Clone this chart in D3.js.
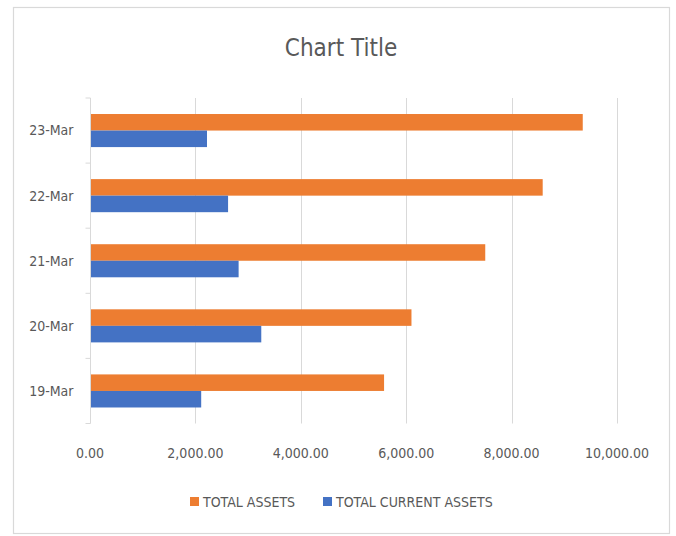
<!DOCTYPE html>
<html>
<head>
<meta charset="utf-8">
<script src="https://cdn.jsdelivr.net/npm/d3@7"></script>
<style>
  html, body { margin: 0; padding: 0; background: #fff; }
  svg { display: block; }
  text { font-family: "Liberation Sans Narrow", "DejaVu Sans Condensed", "Liberation Sans", sans-serif; fill: #595959; }
</style>
</head>
<body>
<svg id="chart" width="676" height="536"></svg>
<script>
// Dates shown on the category axis (bottom to top)
const categories = ["19-Mar", "20-Mar", "21-Mar", "22-Mar", "23-Mar"];
const seriesNames = ["TOTAL ASSETS", "TOTAL CURRENT ASSETS"];
const totalAssets = [5580, 6100, 7500, 8590, 9350];
const totalCurrentAssets = [2110, 3250, 2820, 2620, 2220];
const xTicks = [0, 2000, 4000, 6000, 8000, 10000];
const seriesColors = ["#ED7D31", "#4472C4"];

const svg = d3.select("#chart");
const W = 676, H = 536;

// Outer chart frame
svg.append("rect")
  .attr("x", 13.5).attr("y", 7.5)
  .attr("width", 656).attr("height", 526)
  .attr("fill", "#fff").attr("stroke", "#d9d9d9").attr("stroke-width", 1.2);

const plot = { left: 90, right: 617, top: 98, bottom: 423.5 };

const x = d3.scaleLinear().domain([0, 10000]).range([plot.left, plot.right]);
const y = d3.scaleBand().domain(categories.slice().reverse())
  .range([plot.top, plot.bottom]).paddingInner(0).paddingOuter(0);
const barH = y.bandwidth() * 0.254;

// Vertical gridlines
svg.append("g").selectAll("line").data(xTicks.slice(1)).join("line")
  .attr("x1", d => Math.round(x(d)) + 0.5).attr("x2", d => Math.round(x(d)) + 0.5)
  .attr("y1", plot.top).attr("y2", plot.bottom)
  .attr("stroke", "#d9d9d9").attr("stroke-width", 1);

// Bars: each category has TOTAL ASSETS on top, TOTAL CURRENT ASSETS below
const rows = categories.map((c, i) => ({ c, vals: [totalAssets[i], totalCurrentAssets[i]] }));
const g = svg.append("g");
rows.forEach(r => {
  const mid = y(r.c) + y.bandwidth() / 2;
  r.vals.forEach((v, k) => {
    g.append("rect")
      .attr("x", x(0))
      .attr("y", mid - barH + k * barH)
      .attr("width", x(v) - x(0))
      .attr("height", barH)
      .attr("fill", seriesColors[k]);
  });
});

// Category axis with ticks at band boundaries
const yAxisG = svg.append("g").attr("transform", `translate(${plot.left + 0.5},0)`);
yAxisG.append("line").attr("y1", plot.top).attr("y2", plot.bottom).attr("stroke", "#d9d9d9");
const bounds = d3.range(categories.length + 1).map(i => plot.top + i * y.step());
yAxisG.selectAll("line.tk").data(bounds).join("line").attr("class", "tk")
  .attr("x1", -5).attr("x2", 0).attr("y1", d => d).attr("y2", d => d)
  .attr("stroke", "#d9d9d9");
yAxisG.selectAll("text").data(categories).join("text")
  .attr("x", -17).attr("y", d => y(d) + y.bandwidth() / 2)
  .attr("dy", "0.35em").attr("text-anchor", "end")
  .attr("font-size", 14).text(d => d);

// Value axis labels
const fmt = d3.format(",.2f");
svg.append("g").selectAll("text").data(xTicks).join("text")
  .attr("x", d => x(d)).attr("y", 453).attr("dy", "0.35em")
  .attr("text-anchor", "middle").attr("font-size", 14)
  .text(d => fmt(d));

// Title
svg.append("text").attr("x", 341).attr("y", 56)
  .attr("text-anchor", "middle").attr("font-size", 24)
  .text("Chart Title");

// Legend
const legend = [{ x: 190, name: seriesNames[0], color: seriesColors[0] },
                { x: 323, name: seriesNames[1], color: seriesColors[1] }];
const lg = svg.append("g");
legend.forEach(l => {
  lg.append("rect").attr("x", l.x).attr("y", 497).attr("width", 9).attr("height", 9).attr("fill", l.color);
  lg.append("text").attr("x", l.x + 13).attr("y", 502).attr("dy", "0.35em")
    .attr("font-size", 14).text(l.name);
});
</script>
</body>
</html>
